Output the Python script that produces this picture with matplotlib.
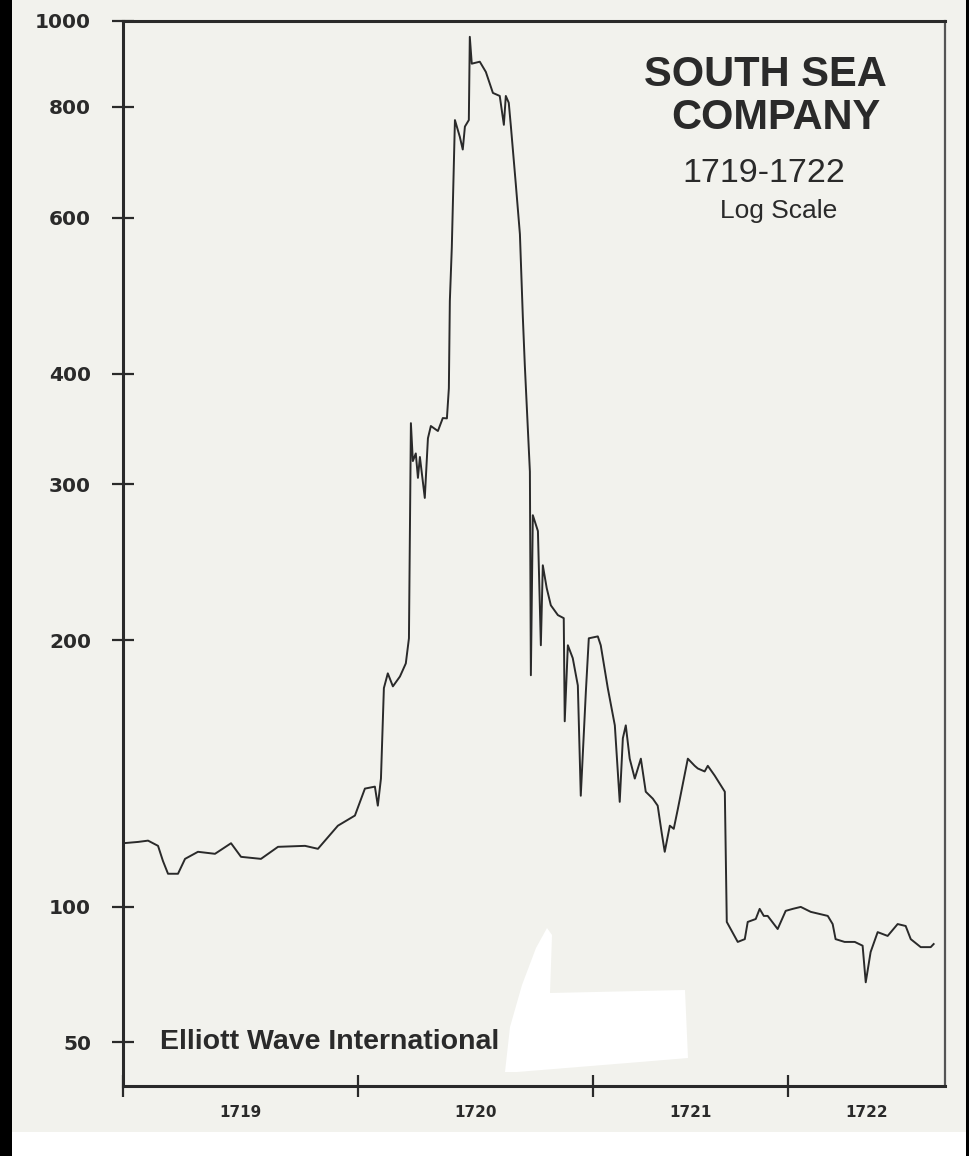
import numpy as np
import matplotlib
matplotlib.use("Agg")
import matplotlib.pyplot as plt
from matplotlib.patches import Rectangle, Polygon

plt.rcParams['font.family'] = ['Liberation Sans', 'DejaVu Sans']

# months counted from the start of 1719 (chart's own time axis)
months = [0.0, 0.77, 1.28, 1.79, 2.04, 2.30, 2.81, 3.17, 3.83, 4.70,
          5.52, 6.03, 7.05, 7.92, 9.30, 9.96, 10.98, 11.85, 12.36, 12.87,
          13.02, 13.18, 13.33, 13.53, 13.79, 14.15, 14.45, 14.61, 14.71, 14.81,
          14.96, 15.07, 15.17, 15.42, 15.58, 15.73, 16.09, 16.34, 16.55, 16.65,
          16.70, 16.80, 16.96, 17.21, 17.36, 17.47, 17.67, 17.72, 17.82, 18.23,
          18.54, 18.90, 19.25, 19.46, 19.56, 19.71, 19.82, 20.07, 20.28, 20.43,
          20.53, 20.68, 20.79, 20.84, 20.94, 21.20, 21.35, 21.45, 21.65, 21.86,
          22.22, 22.52, 22.57, 22.73, 22.98, 23.24, 23.39, 23.65, 23.80, 24.26,
          24.41, 24.77, 25.13, 25.38, 25.54, 25.69, 25.89, 26.15, 26.46, 26.71,
          27.07, 27.32, 27.53, 27.68, 27.94, 28.14, 28.35, 28.86, 29.21, 29.37,
          29.72, 29.88, 30.23, 30.75, 30.80, 30.85, 31.05, 31.41, 31.77, 31.92,
          32.33, 32.53, 32.74, 32.94, 33.45, 33.86, 34.22, 34.63, 35.14, 36.01,
          36.26, 36.41, 36.87, 37.39, 37.79, 37.95, 38.20, 38.56, 39.07, 39.58,
          39.99, 40.25, 40.76, 41.27, 41.42]
price = [118, 118.4, 118.8, 117.2, 112.7, 109, 109, 113.3, 115.4, 114.8,
         118, 113.9, 113.3, 116.9, 117.2, 116.3, 123.5, 126.8, 136, 136.7,
         130.1, 139.6, 176.6, 183.5, 177.4, 182, 188.3, 201, 351.6, 318.6,
         325, 305, 322, 289.5, 338, 349, 344.5, 356.3, 356, 385,
         483, 555, 773, 740, 716, 760, 773, 959.7, 895, 899.6,
         876, 829.5, 823, 763.5, 823, 808.6, 760, 654.6, 574.6, 463,
         409, 347.4, 310, 182.6, 276.8, 265.6, 197.4, 243, 229, 219,
         213.5, 211.8, 162, 197.4, 190.9, 177.8, 133.5, 175, 201, 202,
         197.4, 176.6, 160.3, 131.4, 155, 160.3, 147, 139.6, 147, 134.9,
         132.5, 130.1, 121, 115.4, 123.5, 122.5, 129, 147, 144.3, 143.3,
         142.2, 144.3, 140.7, 134.9, 113.3, 92.6, 89.3, 83.6, 84.8, 92.6,
         94.0, 99, 95.5, 95.5, 89.3, 98, 99, 100, 97.5, 95.5,
         91.6, 84.8, 83.6, 83.6, 82, 68, 79.4, 87.9, 86.2, 91.6,
         90.7, 84.8, 81.4, 81.4, 82.7]

yticks = [50, 100, 200, 300, 400, 600, 800, 1000]
year_ticks = [0, 12, 24, 34]
year_labels = ['1719', '1720', '1721', '1722']

# chart squeezes everything below 100 into about half a log step
SQ = 0.508


def fwd(v):
    v = np.clip(np.asarray(v, dtype=float), 1e-6, None)
    lv = np.log10(v)
    return np.where(lv >= 2, lv, 2 + SQ * (lv - 2))


def inv(t):
    t = np.asarray(t, dtype=float)
    return np.where(t >= 2, 10 ** t, 10 ** (2 + (t - 2) / SQ))


W, H = 970, 1156
fig = plt.figure(figsize=(W / 100, H / 100), dpi=100, facecolor='white')

paper = '#f2f2ed'
ink = '#2a2a2a'
# scanned page + dark scan edges
fig.patches.append(Rectangle((0, 1 - 1132 / H), 1, 1132 / H, transform=fig.transFigure,
                             facecolor=paper, edgecolor='none', zorder=-2))
fig.patches.append(Rectangle((0, 0), 12 / W, 1, transform=fig.transFigure,
                             facecolor='black', edgecolor='none', zorder=-1))
fig.patches.append(Rectangle((966 / W, 0), 4 / W, 1, transform=fig.transFigure,
                             facecolor='black', edgecolor='none', zorder=-1))

ax = fig.add_axes([123 / W, 1 - 1086 / H, 822 / W, 1065 / H])
ax.set_facecolor(paper)
ax.set_yscale('function', functions=(fwd, inv))
ax.set_ylim(40, 1000)
ax.set_xlim(0, 42)

ax.plot(months, price, color=ink, lw=1.4, zorder=3)

ax.set_yticks(yticks, [str(t) for t in yticks])
ax.set_yticks([], minor=True)
ax.set_xticks(year_ticks, [''] * len(year_ticks))
edges = year_ticks + [42]
mids = [(edges[i] + edges[i + 1]) / 2 for i in range(len(year_labels))]
ax.set_xticks(mids, year_labels, minor=True)

ax.tick_params(axis='y', which='major', direction='inout', length=16, width=1.6,
               color=ink, labelsize=14.5, labelcolor=ink, pad=15)
ax.tick_params(axis='x', which='major', direction='inout', length=16, width=1.6,
               color=ink)
ax.tick_params(axis='x', which='minor', length=0, labelsize=11, labelcolor=ink, pad=14)
for lab in ax.get_yticklabels():
    lab.set_fontfamily('DejaVu Sans')
    lab.set_fontweight('bold')
for lab in ax.get_xticklabels(minor=True):
    lab.set_fontfamily('DejaVu Sans')
    lab.set_fontweight('bold')

for side in ['left', 'bottom', 'top']:
    ax.spines[side].set_color(ink)
    ax.spines[side].set_linewidth(2.2)
ax.spines['right'].set_color('#555555')
ax.spines['right'].set_linewidth(1.6)

ax.text(0.781, 0.949, 'SOUTH SEA', transform=ax.transAxes, ha='center', va='center',
        fontsize=30, fontweight='bold', color=ink)
ax.text(0.794, 0.909, 'COMPANY', transform=ax.transAxes, ha='center', va='center',
        fontsize=30, fontweight='bold', color=ink)
ax.text(0.779, 0.857, '1719-1722', transform=ax.transAxes, ha='center', va='center',
        fontsize=24.5, color=ink)
ax.text(0.797, 0.822, 'Log Scale', transform=ax.transAxes, ha='center', va='center',
        fontsize=19, color=ink)
ax.text(1.9, 50, 'Elliott Wave International', ha='left', va='center',
        fontsize=20.5, fontweight='bold', color=ink)

# white blotch on the scan
blob = [(505, 1072), (510, 1027), (522, 985), (536, 948), (547, 928), (552, 935),
        (551, 965), (550, 993), (685, 990), (688, 1058), (640, 1062), (517, 1072)]
fig.patches.append(Polygon([(x / W, 1 - y / H) for x, y in blob], closed=True,
                           transform=fig.transFigure, facecolor='white',
                           edgecolor='none', zorder=5))

fig.savefig('out.png', dpi=100, facecolor=fig.get_facecolor())
